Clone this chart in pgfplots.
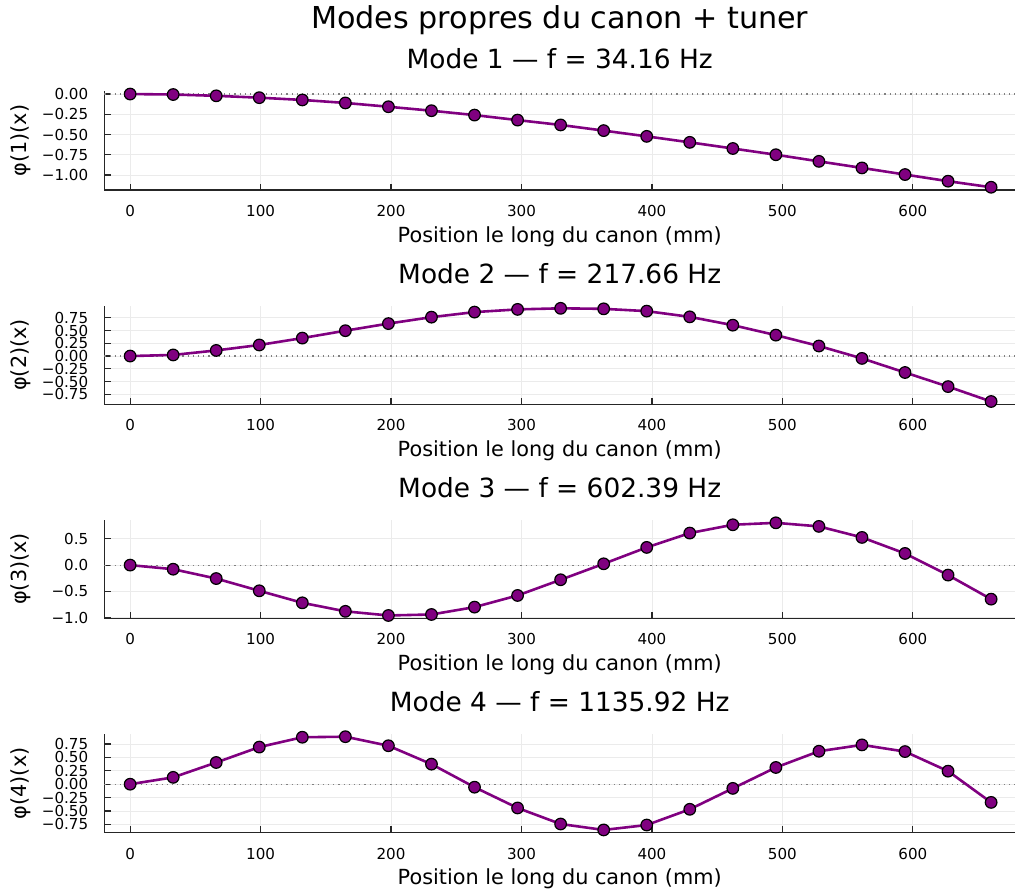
\documentclass[border=0pt]{standalone}
\usepackage{fontspec}
\setmainfont{DejaVu Sans}
\usepackage{pgfplots}
\pgfplotsset{compat=1.18}
\definecolor{jpurple}{RGB}{128,0,128}

\pgfplotsset{
  modeax/.style={
    scale only axis, width=455.4pt, height=49.4pt,
    xmin=-19.8, xmax=678.4,
    axis lines*=left,
    axis line style={-, black!85, line width=0.7pt},
    tick align=inside, major tick length=3.2pt,
    tick style={black!85, line width=0.6pt},
    grid=major, grid style={black!8, line width=0.4pt},
    xtick={0,100,200,300,400,500,600},
    xticklabels={0,100,200,300,400,500,600},
    ticklabel style={font=\fontsize{7.56}{9}\selectfont},
    xticklabel style={yshift=-4pt},
    yticklabel style={xshift=-4.5pt},
    xlabel={Position le long du canon (mm)},
    label style={font=\fontsize{10.4}{12}\selectfont},
    xlabel style={at={(axis description cs:0.5,0)}, anchor=base, yshift=-26pt},
    ylabel style={at={(axis description cs:-0.0922,0.5)}, anchor=center},
    title style={at={(axis description cs:0.5,1)}, anchor=base, yshift=5.2pt,
      font=\fontsize{13.2}{15}\selectfont},
    clip=false,
  },
  modeline/.style={jpurple, line width=1.3pt, mark=*, mark size=2.9pt,
    mark options={fill=jpurple, draw=black, line width=0.6pt}},
  zeroline/.style={gray, dotted, line width=0.6pt},
}

\begin{document}
\begin{tikzpicture}
% mode 1
\begin{axis}[modeax, name=ax1, at={(0,0)},
  title={Mode 1 — f = 34.16 Hz}, ylabel={φ(1)(x)},
  ymin=-1.186, ymax=0.035,
  ytick={-1,-0.75,-0.5,-0.25,0},
  yticklabels={−1.00,−0.75,−0.50,−0.25,0.00}]
\addplot[zeroline] coordinates {(-19.8,0) (678.4,0)};
\addplot[modeline] coordinates {
  (0,0) (33,-0.006) (66,-0.022) (99,-0.045) (132,-0.073) (165,-0.11)
  (198,-0.157) (231,-0.206) (264,-0.26) (297,-0.322) (330,-0.382)
  (363,-0.452) (396,-0.523) (429,-0.597) (462,-0.673) (495,-0.75)
  (528,-0.832) (561,-0.913) (594,-0.995) (627,-1.077) (660,-1.152)
};
\end{axis}
% mode 2
\begin{axis}[modeax, name=ax2, at={(0,-107.15pt)},
  title={Mode 2 — f = 217.66 Hz}, ylabel={φ(2)(x)},
  ymin=-0.945, ymax=0.99,
  ytick={-0.75,-0.5,-0.25,0,0.25,0.5,0.75},
  yticklabels={−0.75,−0.50,−0.25,0.00,0.25,0.50,0.75}]
\addplot[zeroline] coordinates {(-19.8,0) (678.4,0)};
\addplot[modeline] coordinates {
  (0,0) (33,0.022) (66,0.11) (99,0.217) (132,0.352) (165,0.497)
  (198,0.636) (231,0.762) (264,0.861) (297,0.914) (330,0.935)
  (363,0.925) (396,0.88) (429,0.768) (462,0.605) (495,0.41)
  (528,0.197) (561,-0.046) (594,-0.322) (627,-0.598) (660,-0.89)
};
\end{axis}
% mode 3
\begin{axis}[modeax, name=ax3, at={(0,-214.15pt)},
  title={Mode 3 — f = 602.39 Hz}, ylabel={φ(3)(x)},
  ymin=-1.013, ymax=0.868,
  ytick={-1,-0.5,0,0.5},
  yticklabels={−1.0,−0.5,0.0,0.5}]
\addplot[zeroline] coordinates {(-19.8,0) (678.4,0)};
\addplot[modeline] coordinates {
  (0,0) (33,-0.078) (66,-0.256) (99,-0.489) (132,-0.718) (165,-0.88)
  (198,-0.959) (231,-0.94) (264,-0.8) (297,-0.578) (330,-0.279)
  (363,0.025) (396,0.337) (429,0.61) (462,0.768) (495,0.805)
  (528,0.737) (561,0.527) (594,0.222) (627,-0.19) (660,-0.648)
};
\end{axis}
% mode 4
\begin{axis}[modeax, name=ax4, at={(0,-321.35pt)},
  title={Mode 4 — f = 1135.92 Hz}, ylabel={φ(4)(x)},
  ymin=-0.907, ymax=0.94,
  ytick={-0.75,-0.5,-0.25,0,0.25,0.5,0.75},
  yticklabels={−0.75,−0.50,−0.25,0.00,0.25,0.50,0.75}]
\addplot[zeroline] coordinates {(-19.8,0) (678.4,0)};
\addplot[modeline] coordinates {
  (0,0) (33,0.128) (66,0.406) (99,0.694) (132,0.878) (165,0.888)
  (198,0.719) (231,0.375) (264,-0.056) (297,-0.444) (330,-0.744)
  (363,-0.855) (396,-0.763) (429,-0.469) (462,-0.078) (495,0.313)
  (528,0.616) (561,0.735) (594,0.61) (627,0.244) (660,-0.34)
};
\end{axis}
\node[anchor=base, font=\fontsize{15.1}{18}\selectfont] at ([yshift=31.6pt]ax1.north)
  {Modes propres du canon + tuner};
\pgfresetboundingbox
\useasboundingbox (-52.15pt,95pt) rectangle (455.35pt,-350.5pt);
\end{tikzpicture}
\end{document}
